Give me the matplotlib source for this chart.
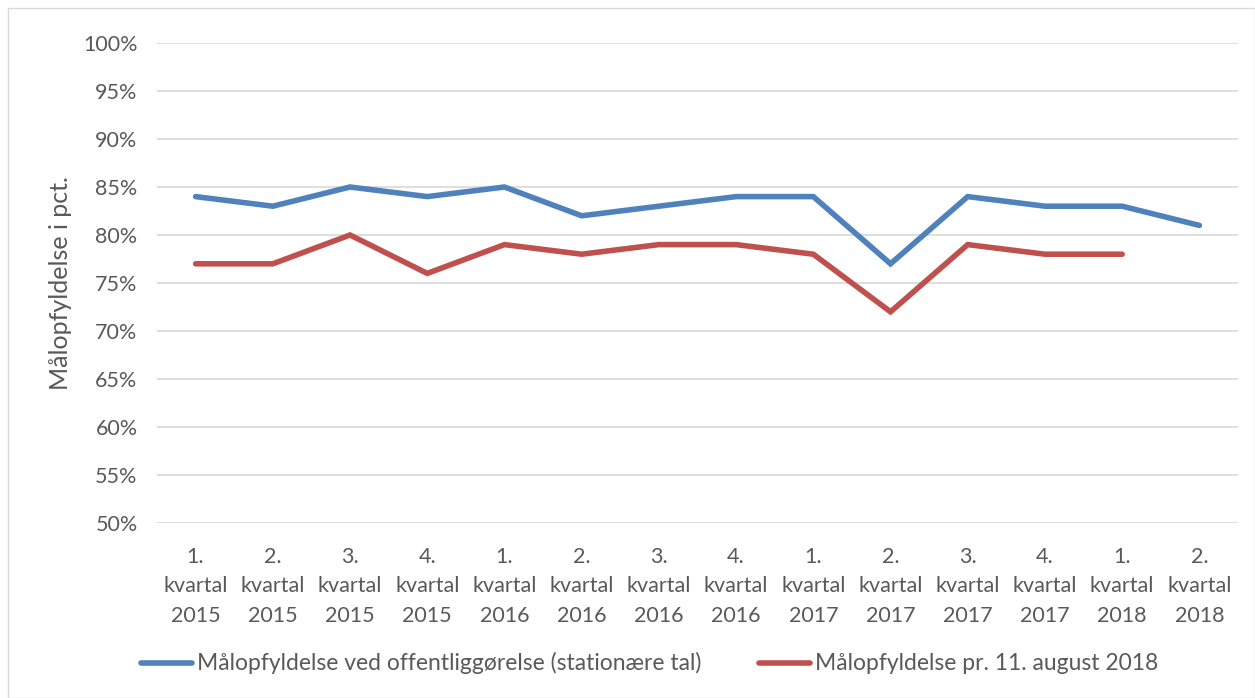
import matplotlib.pyplot as plt
from matplotlib.lines import Line2D
from matplotlib.patches import Rectangle

# data
kvartaler = ["1.\nkvartal\n2015", "2.\nkvartal\n2015", "3.\nkvartal\n2015", "4.\nkvartal\n2015",
             "1.\nkvartal\n2016", "2.\nkvartal\n2016", "3.\nkvartal\n2016", "4.\nkvartal\n2016",
             "1.\nkvartal\n2017", "2.\nkvartal\n2017", "3.\nkvartal\n2017", "4.\nkvartal\n2017",
             "1.\nkvartal\n2018", "2.\nkvartal\n2018"]
offentlig = [84, 83, 85, 84, 85, 82, 83, 84, 84, 77, 84, 83, 83, 81]
aug2018 = [77, 77, 80, 76, 79, 78, 79, 79, 78, 72, 79, 78, 78]

navn_blaa = "Målopfyldelse ved offentliggørelse (stationære tal)"
navn_roed = "Målopfyldelse pr. 11. august 2018"

plt.rcParams["font.family"] = ["Lato", "DejaVu Sans"]
tekstfarve = "#595959"
blaa = "#4f81bd"
roed = "#c0504d"
fs = 15.5

fig = plt.figure(figsize=(12.55, 6.98), dpi=100)
ax = fig.add_axes([157 / 1255, 1 - 523 / 698, (1238 - 157) / 1255, (523 - 43) / 698])

x = list(range(len(kvartaler)))
ax.plot(x, offentlig, color=blaa, lw=4, solid_capstyle="round", solid_joinstyle="miter")
ax.plot(x[:len(aug2018)], aug2018, color=roed, lw=4, solid_capstyle="round", solid_joinstyle="miter")

ax.set_xlim(-0.5, len(kvartaler) - 0.5)
ax.set_ylim(50, 100)
ax.set_yticks(range(50, 101, 5))
ax.set_yticklabels([f"{v}%" for v in range(50, 101, 5)], color=tekstfarve, fontsize=fs)
ax.set_xticks(x)
ax.set_xticklabels(kvartaler, color=tekstfarve, fontsize=fs, linespacing=1.6)
ax.tick_params(length=0, pad=14)
ax.tick_params(axis="x", pad=17)
ax.grid(axis="y", color="#d9d9d9", lw=1.2)
ax.set_axisbelow(True)
for s in ax.spines.values():
    s.set_visible(False)

fig.text(61 / 1255, 1 - 283 / 698, "Målopfyldelse i pct.", rotation=90, ha="center", va="center",
         color=tekstfarve, fontsize=18)

# legend
fig.add_artist(Line2D([141 / 1255, 192 / 1255], [1 - 663 / 698] * 2, color=blaa, lw=4, solid_capstyle="round"))
fig.text(197 / 1255, 1 - 663 / 698, navn_blaa, color=tekstfarve, fontsize=16.5, va="center")
fig.add_artist(Line2D([759 / 1255, 810 / 1255], [1 - 663 / 698] * 2, color=roed, lw=4, solid_capstyle="round"))
fig.text(815 / 1255, 1 - 663 / 698, navn_roed, color=tekstfarve, fontsize=16.5, va="center")

# ramme
fig.add_artist(Rectangle((8 / 1255, 0), 1 - 8 / 1255, 1 - 8 / 698, transform=fig.transFigure,
                         fill=False, edgecolor="#d9d9d9", lw=1))

fig.savefig("out.png", dpi=100)
